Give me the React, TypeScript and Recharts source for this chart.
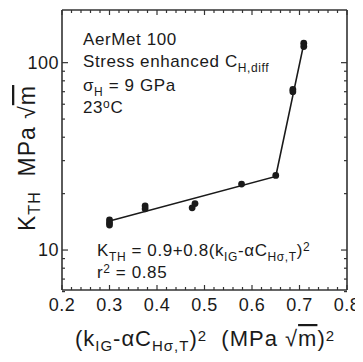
import React from 'react'
import { ScatterChart, Scatter, XAxis, YAxis } from 'recharts'

// axis ticks
const X_MAJOR = [0.2, 0.3, 0.4, 0.5, 0.6, 0.7, 0.8]
const X_TICKS = [
  0.2, 0.22, 0.24, 0.26, 0.28, 0.3, 0.32, 0.34, 0.36, 0.38, 0.4, 0.42, 0.44, 0.46, 0.48,
  0.5, 0.52, 0.54, 0.56, 0.58, 0.6, 0.62, 0.64, 0.66, 0.68, 0.7, 0.72, 0.74, 0.76, 0.78, 0.8
]
const Y_MAJOR = [10, 100]
const Y_TICKS = [6, 7, 8, 9, 10, 20, 30, 40, 50, 60, 70, 80, 90, 100]

// measured K_TH points
const POINT_X = [0.3, 0.3, 0.3, 0.375, 0.375, 0.474, 0.48, 0.578, 0.65, 0.686, 0.686, 0.709, 0.709]
const POINT_Y = [14.5, 14.0, 13.6, 17.2, 16.6, 16.8, 17.7, 22.5, 25, 72, 70, 127, 122]

// two-segment fit
const FIT_X = [0.3, 0.65, 0.709]
const FIT_Y = [14.3, 24.7, 126]

const INK = '#1a1a1a'
const AXIS = '#333'
const FONT = 'Liberation Sans, Arial, sans-serif'

const points = POINT_X.map((x, i) => ({ x, y: POINT_Y[i] }))
const fit = FIT_X.map((x, i) => ({ x, y: FIT_Y[i] }))

const BottomTick = (props: any) => {
  const { x, y, payload } = props
  const major = X_MAJOR.includes(payload.value)
  return (
    <g>
      <line x1={x} y1={y} x2={x} y2={y - (major ? 5 : 3)} stroke={AXIS} strokeWidth={1.2} />
      {major && (
        <text x={x} y={y + 21} textAnchor="middle" fontSize={18} letterSpacing={0.5} fill={INK} fontFamily={FONT}>
          {payload.value.toFixed(1)}
        </text>
      )}
    </g>
  )
}

const TopTick = (props: any) => {
  const { x, y, payload } = props
  const major = X_MAJOR.includes(payload.value)
  return <line x1={x} y1={y} x2={x} y2={y + (major ? 5 : 3)} stroke={AXIS} strokeWidth={1.2} />
}

const LeftTick = (props: any) => {
  const { x, y, payload } = props
  const major = Y_MAJOR.includes(payload.value)
  return (
    <g>
      <line x1={x} y1={y} x2={x + (major ? 6 : 3)} y2={y} stroke={AXIS} strokeWidth={1.2} />
      {major && (
        <text x={x - 3} y={y + 6} textAnchor="end" fontSize={18} letterSpacing={0.5} fill={INK} fontFamily={FONT}>
          {payload.value}
        </text>
      )}
    </g>
  )
}

const RightTick = (props: any) => {
  const { x, y, payload } = props
  const major = Y_MAJOR.includes(payload.value)
  return <line x1={x} y1={y} x2={x - (major ? 6 : 3)} y2={y} stroke={AXIS} strokeWidth={1.2} />
}

const Dot = (props: any) => <circle cx={props.cx} cy={props.cy} r={3.4} fill={INK} />

// segments: [text, level] where level 0 = normal, 1 = subscript, -1 = superscript
const Rich = ({ parts, small }: { parts: [string, number][]; small: number }) => {
  let level = 0
  return (
    <>
      {parts.map(([t, lv], i) => {
        const shift = (lv - level) * 5
        level = lv
        return (
          <tspan key={i} dy={shift} fontSize={lv === 0 ? undefined : small}>
            {t}
          </tspan>
        )
      })}
    </>
  )
}

const Root = () => (
  <>
    √<tspan style={{ textDecoration: 'overline' }}>m</tspan>
  </>
)

const Notes = () => (
  <svg
    width={355}
    height={354}
    style={{ position: 'absolute', left: 0, top: 0, pointerEvents: 'none' }}
    fontFamily={FONT}
    fill={INK}
  >
    <g fontSize={17} letterSpacing={0.6}>
      <text x={75} y={37}>AerMet 100</text>
      <text x={75} y={59}>
        <Rich small={12} parts={[['Stress enhanced C', 0], ['H,diff', 1]]} />
      </text>
      <text x={75} y={83}>
        <Rich small={12} parts={[['σ', 0], ['H', 1], [' = 9 GPa', 0]]} />
      </text>
      <text x={75} y={105}>
        <Rich small={12} parts={[['23', 0], ['o', -1], ['C', 0]]} />
      </text>

      <text x={89} y={248}>
        <Rich
          small={12}
          parts={[['K', 0], ['TH', 1], [' = 0.9+0.8(k', 0], ['IG', 1], ['-αC', 0], ['Hσ,T', 1], [')', 0], ['2', -1]]}
        />
      </text>
      <text x={89} y={270}>
        <Rich small={12} parts={[['r', 0], ['2', -1], [' = 0.85', 0]]} />
      </text>
    </g>

    <text x={197} y={338} fontSize={22} letterSpacing={1} textAnchor="middle" style={{ whiteSpace: 'pre' }}>
      <Rich small={15} parts={[['(k', 0], ['IG', 1], ['-αC', 0], ['Hσ,T', 1], [')', 0], ['2', -1], ['  (MPa ', 0]]} />
      <Root />
      <Rich small={15} parts={[[')', 0], ['2', -1]]} />
    </text>

    <text
      transform="translate(27 150) rotate(-90)"
      fontSize={23}
      letterSpacing={1}
      textAnchor="middle"
      style={{ whiteSpace: 'pre' }}
    >
      <Rich small={16} parts={[['K', 0], ['TH', 1], ['  MPa ', 0]]} />
      <Root />
    </text>
  </svg>
)

export default function App() {
  return (
    <div style={{ position: 'relative', width: 355, height: 354, fontFamily: FONT }}>
      <ScatterChart width={355} height={354} margin={{ top: 1, right: 15, bottom: 71, left: 53 }}>
        <XAxis
          xAxisId="b"
          dataKey="x"
          type="number"
          domain={[0.2, 0.8]}
          ticks={X_TICKS}
          interval={0}
          tickSize={0}
          tickMargin={0}
          tick={BottomTick}
          height={1}
          axisLine={{ stroke: AXIS, strokeWidth: 1.6 }}
          allowDataOverflow
        />
        <XAxis
          xAxisId="t"
          orientation="top"
          dataKey="x"
          type="number"
          domain={[0.2, 0.8]}
          ticks={X_TICKS}
          interval={0}
          tickSize={0}
          tickMargin={0}
          tick={TopTick}
          height={1}
          axisLine={{ stroke: AXIS, strokeWidth: 1.6 }}
          allowDataOverflow
        />
        <YAxis
          yAxisId="l"
          dataKey="y"
          type="number"
          scale="log"
          domain={[6.12, 191]}
          ticks={Y_TICKS}
          interval={0}
          tickSize={0}
          tickMargin={0}
          tick={LeftTick}
          width={1}
          axisLine={{ stroke: AXIS, strokeWidth: 1.6 }}
          allowDataOverflow
        />
        <YAxis
          yAxisId="r"
          orientation="right"
          dataKey="y"
          type="number"
          scale="log"
          domain={[6.12, 191]}
          ticks={Y_TICKS}
          interval={0}
          tickSize={0}
          tickMargin={0}
          tick={RightTick}
          width={1}
          axisLine={{ stroke: AXIS, strokeWidth: 1.6 }}
          allowDataOverflow
        />
        <Scatter
          xAxisId="b"
          yAxisId="l"
          data={fit}
          line={{ stroke: INK, strokeWidth: 1.6 }}
          lineType="joint"
          shape={() => <g />}
          isAnimationActive={false}
        />
        <Scatter
          xAxisId="b"
          yAxisId="l"
          data={points}
          shape={Dot}
          isAnimationActive={false}
        />
      </ScatterChart>
      <Notes />
    </div>
  )
}
